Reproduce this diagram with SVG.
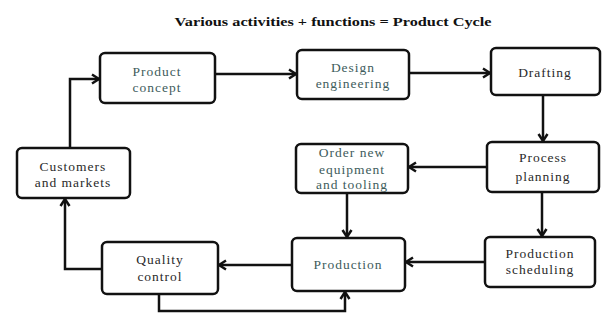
<svg xmlns="http://www.w3.org/2000/svg" width="607" height="335" viewBox="0 0 607 335">
<style>
.box{fill:#fff;stroke:#111;stroke-width:2.5}
.t{font-family:"Liberation Serif","Times New Roman",serif;font-size:13.5px;letter-spacing:1px;text-anchor:middle;fill:#2a2a2a}
.l{fill:#3e5c5c}
.title{font-family:"Liberation Serif","Times New Roman",serif;font-size:13px;font-weight:bold;text-anchor:middle;fill:#111}
.c{fill:none;stroke:#111;stroke-width:2.5}
</style>
<defs>
<marker id="ah" markerUnits="userSpaceOnUse" markerWidth="12" markerHeight="12" refX="9" refY="6" orient="auto">
<path d="M2,1.5 L9,6 L2,10.5" fill="none" stroke="#111" stroke-width="2.5"/>
</marker>
</defs>
<rect width="607" height="335" fill="#fff"/>
<text class="title" x="333" y="26" textLength="317" lengthAdjust="spacingAndGlyphs">Various activities + functions = Product Cycle</text>

<g id="connectors">
<path class="c" d="M215,74 L296,74" marker-end="url(#ah)"/>
<path class="c" d="M409,73 L490,73" marker-end="url(#ah)"/>
<path class="c" d="M543,95 L543,141" marker-end="url(#ah)"/>
<path class="c" d="M487,167 L409,167" marker-end="url(#ah)"/>
<path class="c" d="M542,192 L542,236" marker-end="url(#ah)"/>
<path class="c" d="M347,193 L347,237" marker-end="url(#ah)"/>
<path class="c" d="M485,262 L406,262" marker-end="url(#ah)"/>
<path class="c" d="M292,265 L219,265" marker-end="url(#ah)"/>
<path class="c" d="M102,269 L65,269 L65,199" marker-end="url(#ah)"/>
<path class="c" d="M70,148 L70,79 L99,79" marker-end="url(#ah)"/>
<path class="c" d="M159,294 L159,311 L345,311 L345,292" marker-end="url(#ah)"/>
</g>

<g id="product-concept">
<rect class="box" x="100" y="53" width="115" height="50" rx="5"/>
<text class="t l" x="157" y="76">Product</text>
<text class="t l" x="157" y="92">concept</text>
</g>
<g id="design-engineering">
<rect class="box" x="297" y="50" width="112" height="49" rx="5"/>
<text class="t l" x="353" y="72">Design</text>
<text class="t l" x="353" y="88">engineering</text>
</g>
<g id="drafting">
<rect class="box" x="491" y="48" width="109" height="47" rx="5"/>
<text class="t" x="545" y="77">Drafting</text>
</g>
<g id="process-planning">
<rect class="box" x="487" y="142" width="112" height="50" rx="5"/>
<text class="t" x="543" y="162">Process</text>
<text class="t" x="543" y="181">planning</text>
</g>
<g id="order-equipment">
<rect class="box" x="296" y="144" width="112" height="49" rx="5"/>
<text class="t l" x="352" y="157">Order new</text>
<text class="t l" x="352" y="174">equipment</text>
<text class="t l" x="352" y="189">and tooling</text>
</g>
<g id="customers-markets">
<rect class="box" x="17" y="148" width="113" height="50" rx="5"/>
<text class="t" x="73" y="171">Customers</text>
<text class="t" x="73" y="187">and markets</text>
</g>
<g id="quality-control">
<rect class="box" x="102" y="242" width="116" height="52" rx="5"/>
<text class="t" x="160" y="264">Quality</text>
<text class="t" x="160" y="281">control</text>
</g>
<g id="production">
<rect class="box" x="292" y="238" width="113" height="53" rx="5"/>
<text class="t l" x="348" y="269">Production</text>
</g>
<g id="production-scheduling">
<rect class="box" x="485" y="237" width="110" height="50" rx="5"/>
<text class="t" x="540" y="258">Production</text>
<text class="t" x="540" y="274">scheduling</text>
</g>
</svg>
